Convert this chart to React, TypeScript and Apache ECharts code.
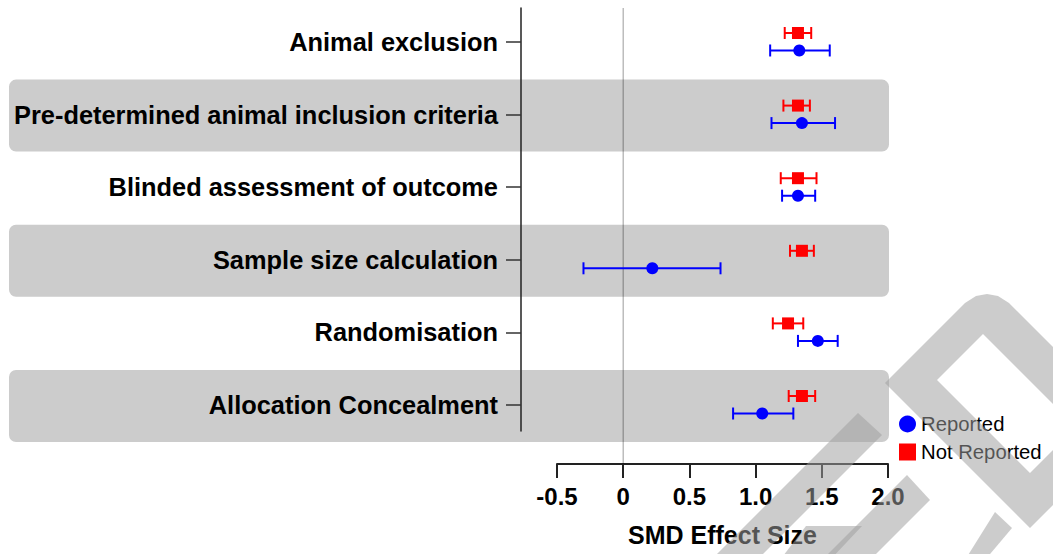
import React, { useEffect, useRef } from 'react';
import * as echarts from 'echarts';

const categories = [
  'Animal exclusion',
  'Pre-determined animal inclusion criteria',
  'Blinded assessment of outcome',
  'Sample size calculation',
  'Randomisation',
  'Allocation Concealment',
];
const reportedMean = [1.33, 1.35, 1.32, 0.22, 1.47, 1.05];
const reportedLow = [1.11, 1.12, 1.2, -0.3, 1.32, 0.83];
const reportedHigh = [1.56, 1.6, 1.45, 0.735, 1.62, 1.285];
const notReportedMean = [1.32, 1.32, 1.32, 1.35, 1.245, 1.35];
const notReportedLow = [1.22, 1.21, 1.19, 1.26, 1.13, 1.25];
const notReportedHigh = [1.42, 1.41, 1.46, 1.44, 1.36, 1.45];
const rowIndex = [0, 1, 2, 3, 4, 5];
const shadedRows = [1, 3, 5];

const X_MIN = -0.5;
const X_MAX = 2.0;
const X_STEP = 0.5;
const Y_MIN = -0.468;
const Y_MAX = 5.358;
const ZERO_END = 5.813;

const FONT = '"Liberation Sans", Arial, Helvetica, sans-serif';
const BLUE = '#0000ff';
const RED = '#ff0000';
const WATERMARK = 'rgba(159,159,159,0.53)';

const errorBarItem = (color: string, dy: number) => (params: any, api: any) => {
  const y = api.value(2);
  const p1 = api.coord([api.value(0), y]);
  const p2 = api.coord([api.value(1), y]);
  const yy = p1[1] + dy;
  const h = 6;
  const style = { stroke: color, lineWidth: 2 };
  return {
    type: 'group',
    children: [
      { type: 'line', shape: { x1: p1[0], y1: yy, x2: p2[0], y2: yy }, style },
      { type: 'line', shape: { x1: p1[0], y1: yy - h, x2: p1[0], y2: yy + h }, style },
      { type: 'line', shape: { x1: p2[0], y1: yy - h, x2: p2[0], y2: yy + h }, style },
    ],
  };
};

export default function App() {
  const ref = useRef<HTMLDivElement>(null);
  useEffect(() => {
    if (!ref.current) return;
    const chart = echarts.init(ref.current, null, { renderer: 'svg' });
    const option: any = {
      animation: false,
      backgroundColor: '#ffffff',
      textStyle: { fontFamily: FONT },
      grid: { left: 557, right: 165, top: 8, height: 423 },
      xAxis: {
        type: 'value',
        min: X_MIN,
        max: X_MAX,
        interval: X_STEP,
        offset: 33,
        axisLine: { show: true, onZero: false, lineStyle: { color: '#222', width: 2 } },
        axisTick: { show: true, length: 14, lineStyle: { color: '#222', width: 2 } },
        splitLine: { show: false },
        axisLabel: {
          margin: 20,
          fontSize: 24,
          fontWeight: 'bold',
          color: '#000',
          fontFamily: FONT,
          formatter: (v: number) => (v === 0 ? '0' : v.toFixed(1)),
        },
        name: 'SMD Effect Size',
        nameLocation: 'middle',
        nameGap: 58,
        nameTextStyle: { fontSize: 25, fontWeight: 'bold', color: '#000', fontFamily: FONT },
      },
      yAxis: {
        type: 'value',
        inverse: true,
        min: Y_MIN,
        max: Y_MAX,
        offset: 36,
        axisLine: { show: true, onZero: false, lineStyle: { color: '#222', width: 1.5 } },
        axisTick: { show: true, length: 15, customValues: rowIndex, lineStyle: { color: '#333', width: 1.5 } },
        splitLine: { show: false },
        axisLabel: {
          customValues: rowIndex,
          margin: 23,
          fontSize: 25.4,
          fontWeight: 'bold',
          color: '#000',
          fontFamily: FONT,
          formatter: (v: number) => categories[Math.round(v)] ?? '',
        },
      },
      legend: {
        orient: 'vertical',
        left: 894,
        top: 409,
        itemWidth: 17,
        itemHeight: 17,
        itemGap: 8,
        textStyle: { fontSize: 20.3, color: '#000', fontFamily: FONT },
        data: [
          { name: 'Reported', icon: 'circle' },
          { name: 'Not Reported', icon: 'rect' },
        ],
      },
      series: [
        {
          type: 'line',
          data: [[0, Y_MIN], [0, ZERO_END]],
          clip: false,
          symbol: 'none',
          silent: true,
          z: 1,
          lineStyle: { color: 'rgba(0,0,0,0.33)', width: 1.2 },
        },
        {
          type: 'custom',
          renderItem: errorBarItem(RED, -9),
          encode: { x: [0, 1], y: 2 },
          data: rowIndex.map((i) => [notReportedLow[i], notReportedHigh[i], i]),
          z: 3,
        },
        {
          type: 'custom',
          renderItem: errorBarItem(BLUE, 8.5),
          encode: { x: [0, 1], y: 2 },
          data: rowIndex.map((i) => [reportedLow[i], reportedHigh[i], i]),
          z: 3,
        },
        {
          name: 'Not Reported',
          type: 'scatter',
          symbol: 'rect',
          symbolSize: 12,
          symbolOffset: [0, -9],
          itemStyle: { color: RED, opacity: 1 },
          data: rowIndex.map((i) => [notReportedMean[i], i]),
          z: 4,
        },
        {
          name: 'Reported',
          type: 'scatter',
          symbol: 'circle',
          symbolSize: 12,
          symbolOffset: [0, 8.5],
          itemStyle: { color: BLUE, opacity: 1 },
          data: rowIndex.map((i) => [reportedMean[i], i]),
          z: 4,
        },
      ],
    };
    chart.setOption(option);

    const xRight = (chart.convertToPixel({ xAxisIndex: 0 }, X_MAX) as number) + 1;
    const bands = shadedRows.map((i) => {
      const yc = chart.convertToPixel({ yAxisIndex: 0 }, i) as number;
      return {
        type: 'rect',
        z: -1,
        silent: true,
        shape: { x: 9, y: yc - 35, width: xRight - 9, height: 72, r: 7 },
        style: { fill: '#cccccc' },
      };
    });

    const ring = [
      [885, 383], [965, 303], [976, 296], [987, 294], [998, 296], [1009, 303],
      [1132, 426], [1030, 528], [885, 383],
      [937, 380], [1030, 473], [1076, 427], [983, 334], [937, 380],
    ];
    const band2 = [[858, 413], [882, 435], [717, 600], [671, 600]];
    const band3 = [[907, 475], [930, 500], [830, 600], [782, 600]];
    const connector = [[806, 526], [862, 526], [830, 560], [780, 560]];
    const band4 = [[995, 512], [1012, 528], [985, 560], [965, 560]];
    const wm = [ring, band2, band3, connector, band4].map((pts) => ({
      type: 'polygon',
      z: 100,
      silent: true,
      shape: { points: pts },
      style: { fill: WATERMARK },
    }));

    chart.setOption({ graphic: { elements: [...bands, ...wm] } });
    return () => chart.dispose();
  }, []);
  return (
    <div
      ref={ref}
      style={{ position: 'fixed', left: 0, top: 0, width: 1053, height: 554 }}
    />
  );
}
